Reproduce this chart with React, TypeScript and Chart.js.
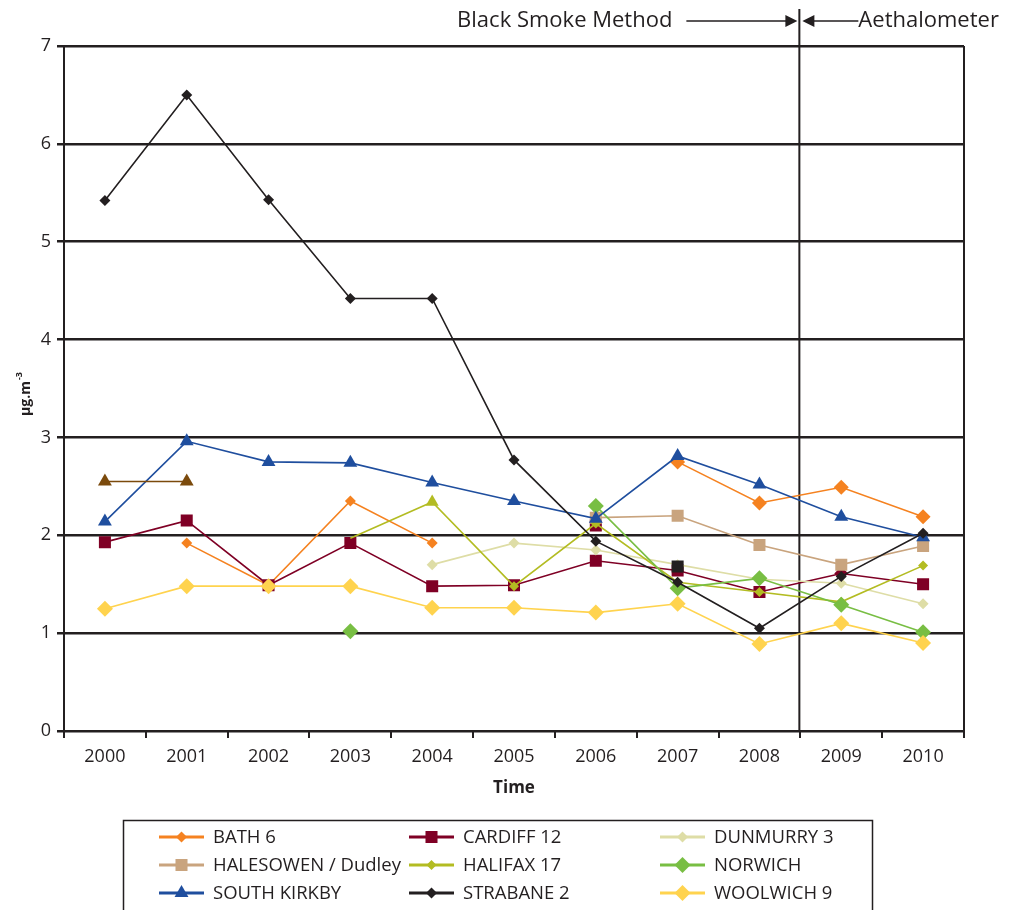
import React, { useEffect, useRef } from 'react';
import { Chart, registerables } from 'chart.js';

Chart.register(...registerables);

const INK = '#231F20';
const FONT = '"Open Sans", "Noto Sans", sans-serif';

const years = ['2000', '2001', '2002', '2003', '2004', '2005', '2006', '2007', '2008', '2009', '2010'];
const yTicks = [0, 1, 2, 3, 4, 5, 6, 7];

const bath = [null, 1.92, 1.49, 2.35, 1.92, null, null, 2.75, 2.33, 2.49, 2.19];
const cardiff = [1.93, 2.15, 1.49, 1.92, 1.48, 1.49, 1.74, 1.64, 1.42, 1.61, 1.5];
const dunmurry = [null, null, null, null, 1.7, 1.92, 1.85, 1.7, 1.55, 1.51, 1.3];
const halesowen = [null, null, null, null, null, null, 2.18, 2.2, 1.9, 1.7, 1.89];
const halifax = [null, null, null, 1.97, 2.34, 1.48, 2.12, 1.52, 1.42, 1.32, 1.69];
const norwich = [null, null, null, 1.02, null, null, 2.3, 1.46, 1.56, 1.29, 1.01];
const southKirkby = [2.14, 2.96, 2.75, 2.74, 2.54, 2.35, 2.17, 2.81, 2.52, 2.19, 1.98];
const strabane = [5.42, 6.5, 5.43, 4.42, 4.42, 2.77, 1.94, 1.52, 1.05, 1.58, 2.02];
const woolwich = [1.25, 1.48, 1.48, 1.48, 1.26, 1.26, 1.21, 1.3, 0.89, 1.1, 0.9];
// unlabelled points present in the original (legend entries removed)
const extraTriangles = [2.55, 2.55, null, null, null, null, null, null, null, null, null];
const extraRedSquare = [null, null, null, null, null, null, 2.1, null, null, null, null];
const extraBlackSquare = [null, null, null, null, null, null, null, 1.68, null, null, null];

type Series = {
  label: string;
  data: (number | null)[];
  color: string;
  style: string | string[];
  radius: number | number[];
  legend: boolean;
  legendStyle?: string;
  legendRadius?: number;
};

const D = 'rectRot';
const S = 'rect';

const series: Series[] = [
  { label: 'BATH 6', data: bath, color: '#F58220', style: D, radius: [0, 5.5, 5.5, 5.5, 5.5, 0, 0, 7.5, 7.5, 7.5, 7.5], legend: true, legendRadius: 5.5 },
  { label: 'CARDIFF 12', data: cardiff, color: '#7F0025', style: [S, S, S, S, S, S, S, S, S, D, S], radius: [8.5, 8.5, 8.5, 8.5, 8.5, 8.5, 8.5, 8.5, 8.5, 7, 8.5], legend: true, legendStyle: S, legendRadius: 8.5 },
  { label: '', data: extraRedSquare, color: '#7F0025', style: S, radius: 8.5, legend: false },
  { label: 'DUNMURRY 3', data: dunmurry, color: '#DEDDA6', style: D, radius: 5.5, legend: true },
  { label: 'HALESOWEN / Dudley', data: halesowen, color: '#C9A47E', style: S, radius: 8.5, legend: true },
  { label: 'HALIFAX 17', data: halifax, color: '#B3BC22', style: [D, D, D, D, 'triangle', D, D, D, D, D, D], radius: [0, 0, 0, 0, 7.5, 5, 5, 5, 5, 5, 5], legend: true, legendStyle: D, legendRadius: 5 },
  { label: 'NORWICH', data: norwich, color: '#78BE43', style: D, radius: 8, legend: true },
  { label: 'SOUTH KIRKBY', data: southKirkby, color: '#1F4E9E', style: 'triangle', radius: 8, legend: true },
  { label: '', data: extraTriangles, color: '#7B4A0C', style: 'triangle', radius: 8, legend: false },
  { label: 'STRABANE 2', data: strabane, color: INK, style: D, radius: 5.5, legend: true },
  { label: '', data: extraBlackSquare, color: INK, style: S, radius: 8.5, legend: false },
  { label: 'WOOLWICH 9', data: woolwich, color: '#FFD34E', style: D, radius: 8, legend: true },
];

const legendOrder = ['BATH 6', 'CARDIFF 12', 'DUNMURRY 3', 'HALESOWEN / Dudley', 'HALIFAX 17', 'NORWICH', 'SOUTH KIRKBY', 'STRABANE 2', 'WOOLWICH 9'];

function drawMarker(ctx: CanvasRenderingContext2D, style: string, x: number, y: number, r: number, color: string) {
  ctx.save();
  ctx.fillStyle = color;
  ctx.beginPath();
  if (style === 'rect') {
    const s = Math.SQRT1_2 * r;
    ctx.rect(x - s, y - s, 2 * s, 2 * s);
  } else if (style === 'rectRot') {
    ctx.moveTo(x - r, y);
    ctx.lineTo(x, y - r);
    ctx.lineTo(x + r, y);
    ctx.lineTo(x, y + r);
    ctx.closePath();
  } else if (style === 'triangle') {
    ctx.moveTo(x, y - r);
    ctx.lineTo(x + r * 0.866, y + r * 0.5);
    ctx.lineTo(x - r * 0.866, y + r * 0.5);
    ctx.closePath();
  }
  ctx.fill();
  ctx.restore();
}

const extrasPlugin = {
  id: 'extras',
  beforeDatasetsDraw(chart: any) {
    const { ctx, chartArea, scales } = chart;
    const x = scales.x;
    const xDiv = (x.getPixelForValue(8) + x.getPixelForValue(9)) / 2 - 1;
    ctx.save();
    ctx.strokeStyle = INK;
    ctx.lineWidth = 2;
    ctx.beginPath();
    ctx.moveTo(xDiv, 9);
    ctx.lineTo(xDiv, chartArea.bottom);
    ctx.moveTo(chartArea.right, chartArea.top);
    ctx.lineTo(chartArea.right, chartArea.bottom);
    ctx.stroke();
    ctx.restore();
  },
  afterDraw(chart: any) {
    const { ctx, chartArea, scales } = chart;
    const x = scales.x;
    const xDiv = (x.getPixelForValue(8) + x.getPixelForValue(9)) / 2 - 1;
    ctx.save();
    // Annotation
    const ay = 21;
    ctx.fillStyle = INK;
    ctx.strokeStyle = INK;
    ctx.font = `22px ${FONT}`;
    ctx.textBaseline = 'middle';
    ctx.textAlign = 'right';
    ctx.fillText('Black Smoke Method', xDiv - 127, ay);
    ctx.textAlign = 'left';
    ctx.fillText('Aethalometer', xDiv + 59, ay);
    ctx.lineWidth = 1.5;
    ctx.beginPath();
    ctx.moveTo(xDiv - 113, ay);
    ctx.lineTo(xDiv - 12, ay);
    ctx.moveTo(xDiv + 12, ay);
    ctx.lineTo(xDiv + 59, ay);
    ctx.stroke();
    ctx.beginPath();
    ctx.moveTo(xDiv - 2, ay);
    ctx.lineTo(xDiv - 14, ay - 6);
    ctx.lineTo(xDiv - 14, ay + 6);
    ctx.closePath();
    ctx.fill();
    ctx.beginPath();
    ctx.moveTo(xDiv + 3, ay);
    ctx.lineTo(xDiv + 15, ay - 6);
    ctx.lineTo(xDiv + 15, ay + 6);
    ctx.closePath();
    ctx.fill();

    // Y title with superscript
    ctx.save();
    ctx.translate(26, (chartArea.top + chartArea.bottom) / 2 + 10);
    ctx.rotate(-Math.PI / 2);
    ctx.font = `bold 14px ${FONT}`;
    ctx.textAlign = 'center';
    ctx.textBaseline = 'middle';
    const main = 'µg.m';
    const w = ctx.measureText(main).width;
    ctx.fillText(main, 0, 0);
    ctx.font = `bold 9px ${FONT}`;
    ctx.textAlign = 'left';
    ctx.fillText('-3', w / 2 + 1, -7);
    ctx.restore();

    // X title
    ctx.font = `bold 17px ${FONT}`;
    ctx.textAlign = 'center';
    ctx.textBaseline = 'middle';
    ctx.fillText('Time', (chartArea.left + chartArea.right) / 2, 788);

    // Legend
    ctx.lineWidth = 1.5;
    ctx.strokeStyle = INK;
    ctx.strokeRect(123.5, 820.5, 749, 110);
    const cols = [159, 409, 660];
    const rows = [837, 865, 893];
    ctx.font = `18.5px ${FONT}`;
    ctx.textAlign = 'left';
    ctx.textBaseline = 'middle';
    legendOrder.forEach((name, i) => {
      const s = series.find((d) => d.label === name)!;
      const lx = cols[i % 3];
      const ly = rows[Math.floor(i / 3)];
      ctx.strokeStyle = s.color;
      ctx.lineWidth = 3;
      ctx.beginPath();
      ctx.moveTo(lx, ly);
      ctx.lineTo(lx + 45, ly);
      ctx.stroke();
      const st = s.legendStyle ?? (s.style as string);
      const r = s.legendRadius ?? (s.radius as number);
      drawMarker(ctx, st, lx + 22.5, ly, r, s.color);
      ctx.fillStyle = INK;
      ctx.fillText(name, lx + 54, ly + 1);
    });
    ctx.restore();
  },
};

export default function App() {
  const ref = useRef<HTMLCanvasElement>(null);
  useEffect(() => {
    if (!ref.current) return;
    Chart.defaults.font.family = FONT;
    const n = series.length;
    const chart = new Chart(ref.current, {
      type: 'line',
      data: {
        labels: years,
        datasets: series.map((s, i) => ({
          label: s.label,
          data: s.data,
          borderColor: s.color,
          backgroundColor: s.color,
          borderWidth: 1.6,
          pointStyle: s.style as any,
          pointRadius: s.radius as any,
          pointBorderWidth: 0,
          pointBackgroundColor: s.color,
          pointHoverRadius: s.radius as any,
          spanGaps: false,
          tension: 0,
          order: n - i,
        })),
      },
      options: {
        responsive: false,
        animation: false,
        layout: { padding: { left: 0, top: 46, right: 46, bottom: 0 } },
        plugins: {
          legend: { display: false },
          tooltip: { enabled: false },
        },
        scales: {
          x: {
            type: 'category',
            offset: true,
            grid: {
              offset: true,
              drawOnChartArea: false,
              drawTicks: true,
              tickLength: 7,
              color: INK,
              lineWidth: 2,
            },
            border: { display: true, color: INK, width: 2 },
            ticks: { color: INK, font: { size: 18, family: FONT }, padding: 8, maxRotation: 0 },
            afterFit: (scale: any) => {
              scale.height = 179;
            },
          },
          y: {
            min: 0,
            max: 7,
            afterBuildTicks: (scale: any) => {
              scale.ticks = yTicks.map((v) => ({ value: v }));
            },
            grid: {
              color: INK,
              lineWidth: 2.5,
              drawTicks: true,
              tickLength: 7,
            },
            border: { display: true, color: INK, width: 2 },
            ticks: { color: INK, font: { size: 18, family: FONT }, padding: 6 },
            afterFit: (scale: any) => {
              scale.width = 64;
            },
          },
        },
      },
      plugins: [extrasPlugin],
    });
    return () => chart.destroy();
  }, []);
  return (
    <canvas
      ref={ref}
      width={1010}
      height={910}
      style={{ position: 'fixed', left: 0, top: 0, width: 1010, height: 910 }}
    />
  );
}
